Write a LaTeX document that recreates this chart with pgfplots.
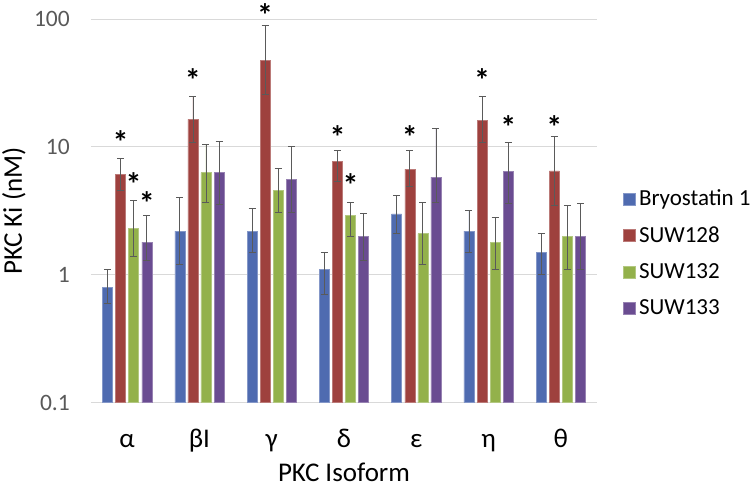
\documentclass[border=0pt]{standalone}
\usepackage{fontspec}
\setmainfont{Carlito}
\usepackage{pgfplots}
\usepackage{pgfplotstable}
\pgfplotsset{compat=1.18}

\definecolor{cBlue}{HTML}{4F6BB0}
\definecolor{cRed}{HTML}{9E413E}
\definecolor{cGreen}{HTML}{93B14B}
\definecolor{cPurple}{HTML}{6A4C91}
\definecolor{tickgray}{HTML}{595959}
\definecolor{gridgray}{HTML}{D9D9D9}
\definecolor{errgray}{HTML}{5A5A5A}

\pgfplotsset{errs/.style={
  error bars/y dir=both, error bars/y explicit,
  error bars/error bar style={line width=0.8pt, draw=errgray},
  error bars/error mark options={rotate=90, mark size=3.5pt, line width=0.8pt, draw=errgray}}}

\pgfplotstableread{
x y ep em
0 0.8 0.3 0.2
1 2.2 1.8 1.0
2 2.2 1.1 0.7
3 1.1 0.4 0.4
4 3.0 1.2 0.9
5 2.2 1.0 0.7
6 1.5 0.6 0.5
}\tabBryo
\pgfplotstableread{
x y ep em
0 6.1 2.0 1.5
1 16.4 8.5 5.5
2 47.3 41.5 21.6
3 7.7 1.7 2.3
4 6.7 2.7 1.8
5 16.2 8.7 5.3
6 6.5 5.6 3.0
}\tabA
\pgfplotstableread{
x y ep em
0 2.3 1.5 0.9
1 6.3 4.2 2.6
2 4.6 2.2 1.5
3 2.9 0.8 0.9
4 2.1 1.6 0.9
5 1.8 1.0 0.7
6 2.0 1.5 0.9
}\tabB
\pgfplotstableread{
x y ep em
0 1.8 1.1 0.5
1 6.3 4.7 2.75
2 5.6 4.4 2.5
3 2.0 1.0 0.7
4 5.8 8.1 2.15
5 6.4 4.5 2.8
6 2.0 1.6 0.9
}\tabC
\pgfplotstableread{
x y t
-0.09 12.1 *
0.09 5.72 *
0.272 4.07 *
0.91 37.0 *
1.91 120 *
2.91 13.3 *
3.09 5.56 *
3.91 13.3 *
4.91 37.0 *
5.272 16.0 *
5.91 16.0 *
}\tabStar

\begin{document}
\begin{tikzpicture}
\useasboundingbox (0,0) rectangle (750pt,484pt);
\begin{axis}[
  at={(91pt,81.3pt)}, anchor=south west,
  width=506pt, height=383.7pt, scale only axis,
  ymode=log, ymin=0.1, ymax=100, log origin=infty,
  xmin=-0.5, xmax=6.5,
  clip=false,
  axis line style={draw=none},
  major tick length=0pt, yminorticks=false,
  ytick={0.1,1,10,100}, yticklabels={0.1,1,10,100},
  xtick={0,1,2,3,4,5,6}, xticklabels={α,βI,γ,δ,ε,η,θ},
  ymajorgrids, grid style={draw=gridgray, line width=0.9pt},
  yticklabel style={font=\fontsize{23.5}{23.5}\selectfont, text=tickgray, anchor=east, inner sep=0pt, xshift=-21pt},
  xticklabel style={font=\fontsize{27}{27}\selectfont, text=black, anchor=base, inner sep=0pt, yshift=-45pt},
  ylabel={PKC Ki (nM)}, xlabel={PKC Isoform},
  ylabel style={font=\fontsize{27}{27}\selectfont, at={(axis description cs:-0.1364,0.5)}, anchor=base, inner sep=0pt},
  xlabel style={font=\fontsize{27}{27}\selectfont, at={(axis description cs:0.5,-0.2045)}, anchor=base, inner sep=0pt},
  legend style={at={(1.051,0.39)}, anchor=west, draw=none, fill=none, inner sep=0pt, row sep=12.5pt,
    font=\fontsize{23}{23}\selectfont,
    nodes={inner sep=3.5pt}},
  legend cell align=left,
  legend image code/.code={\fill[#1] (0pt,-6pt) rectangle (12pt,6pt);},
]
\addplot[ybar, bar width=0.138, bar shift=0pt, fill=cBlue, draw=cBlue!70!white, line width=0.5pt, errs]
  table[x expr=\thisrow{x}-0.272, y=y, y error plus=ep, y error minus=em] {\tabBryo};
\addlegendentry{Bryostatin 1}
\addplot[ybar, bar width=0.138, bar shift=0pt, fill=cRed, draw=cRed!70!white, line width=0.5pt, errs]
  table[x expr=\thisrow{x}-0.09, y=y, y error plus=ep, y error minus=em] {\tabA};
\addlegendentry{SUW128}
\addplot[ybar, bar width=0.138, bar shift=0pt, fill=cGreen, draw=cGreen!70!white, line width=0.5pt, errs]
  table[x expr=\thisrow{x}+0.09, y=y, y error plus=ep, y error minus=em] {\tabB};
\addlegendentry{SUW132}
\addplot[ybar, bar width=0.138, bar shift=0pt, fill=cPurple, draw=cPurple!70!white, line width=0.5pt, errs]
  table[x expr=\thisrow{x}+0.272, y=y, y error plus=ep, y error minus=em] {\tabC};
\addlegendentry{SUW133}
\addplot[draw=none, mark=none, forget plot,
  nodes near coords, point meta=explicit symbolic,
  nodes near coords style={anchor=center, inner sep=0pt, font=\bfseries\fontsize{32}{32}\selectfont, text=black, yshift=-6pt}]
  table[x=x, y=y, meta=t] {\tabStar};
\end{axis}
\end{tikzpicture}
\end{document}
